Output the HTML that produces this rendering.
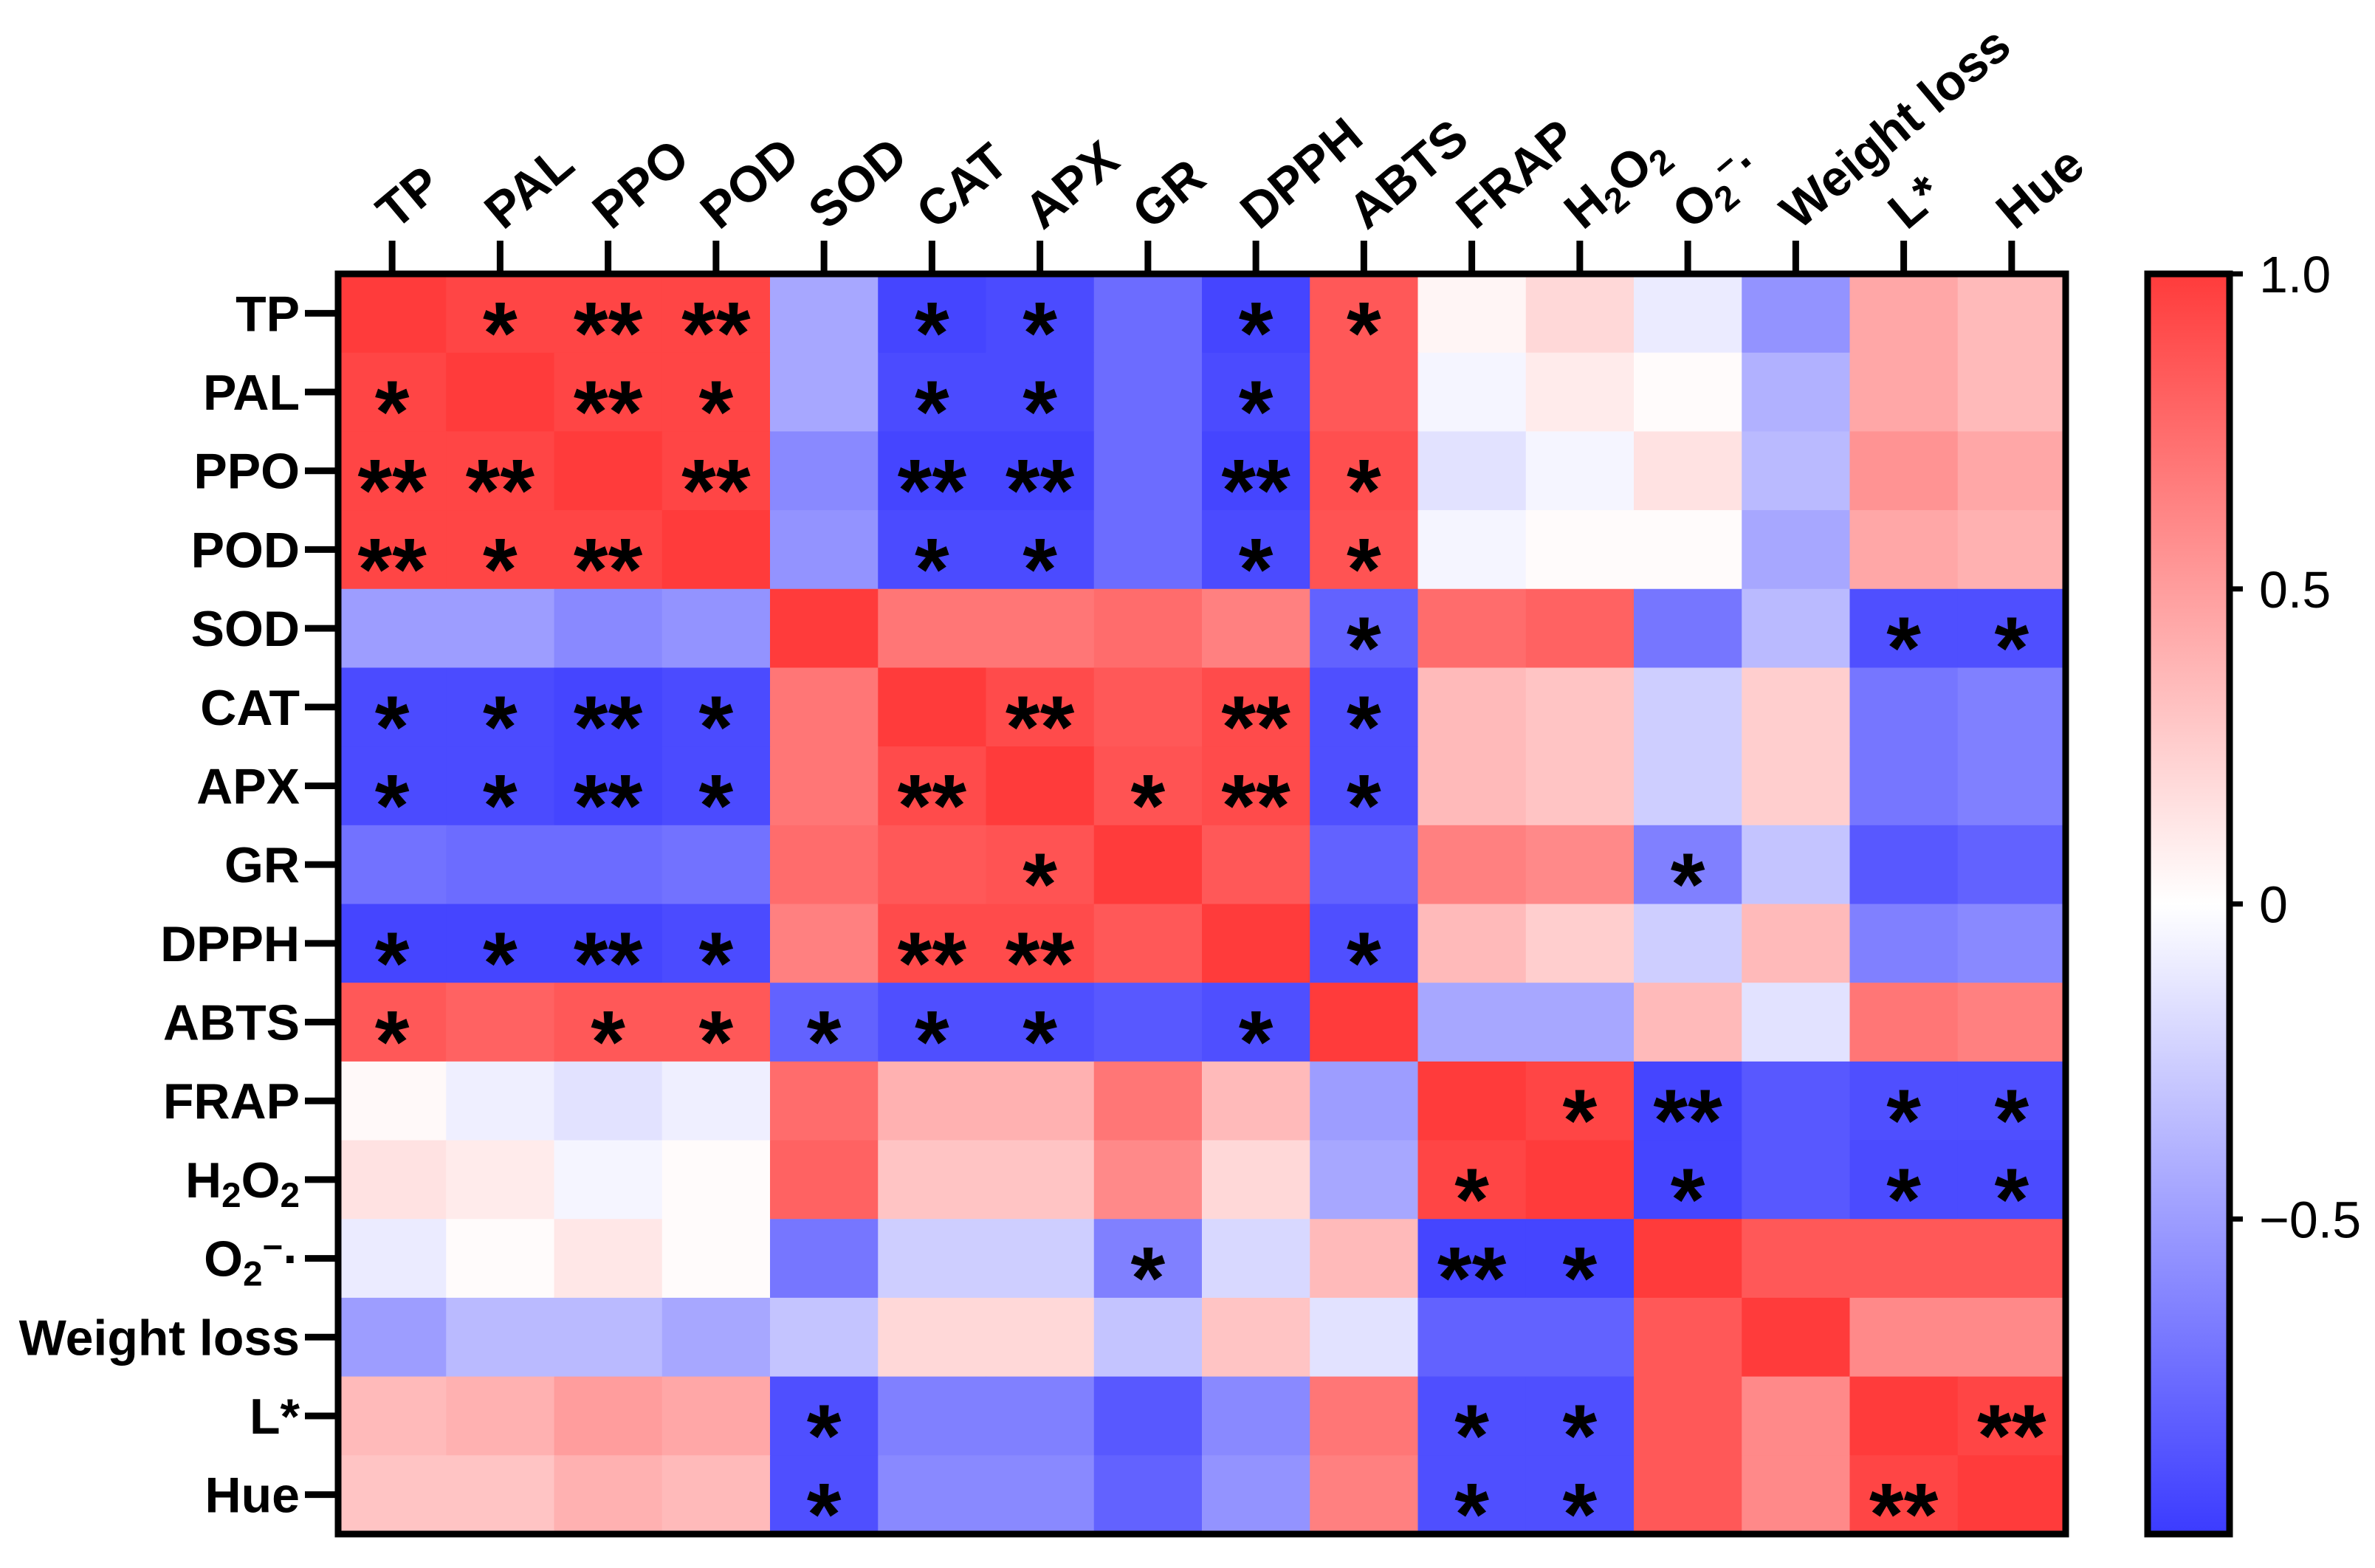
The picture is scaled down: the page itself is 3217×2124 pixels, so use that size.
<!DOCTYPE html>
<html><head><meta charset="utf-8"><style>
html,body{margin:0;padding:0;background:#fff}
svg{display:block}
text{font-family:"Liberation Sans",Arial,sans-serif}
</style></head><body>
<svg id="chart" xmlns="http://www.w3.org/2000/svg" width="3217" height="2124" viewBox="0 0 3217 2124">
<g id="cells"></g>
<g id="stars"></g>
<g id="axes"></g>
<g id="cbar"></g>
</svg>
<script>
const labels = ["TP","PAL","PPO","POD","SOD","CAT","APX","GR","DPPH","ABTS","FRAP","H2O2","O2","WL","L*","Hue"];
const r_TP   = [1,.95,.95,.95,-.45,-.95,-.92,-.75,-.95,.85,.05,.2,-.1,-.55,.45,.35];
const r_PAL  = [.95,1,.95,.95,-.45,-.92,-.92,-.75,-.92,.85,-.05,.1,.02,-.4,.45,.35];
const r_PPO  = [.95,.95,1,.95,-.6,-.95,-.95,-.75,-.95,.9,-.15,-.05,.15,-.35,.55,.45];
const r_POD  = [.95,.95,.95,1,-.55,-.92,-.92,-.75,-.92,.88,-.05,.02,.02,-.45,.45,.4];
const r_SOD  = [-.5,-.5,-.6,-.55,1,.7,.7,.75,.65,-.8,.75,.8,-.7,-.35,-.9,-.9];
const r_CAT  = [-.92,-.92,-.95,-.92,.7,1,.92,.85,.92,-.9,.35,.3,-.25,.25,-.7,-.65];
const r_APX  = [-.92,-.92,-.95,-.92,.7,.92,1,.88,.92,-.9,.35,.3,-.25,.25,-.7,-.65];
const r_GR   = [-.72,-.75,-.75,-.72,.75,.85,.88,1,.85,-.8,.65,.6,-.65,-.3,-.85,-.8];
const r_DPPH = [-.95,-.95,-.95,-.92,.65,.92,.92,.85,1,-.9,.35,.25,-.25,.35,-.65,-.6];
const r_ABTS = [.85,.8,.85,.85,-.8,-.9,-.9,-.85,-.9,1,-.45,-.45,.35,-.15,.7,.65];
const r_FRAP = [.03,-.08,-.15,-.08,.75,.4,.4,.7,.35,-.5,1,.95,-.95,-.85,-.9,-.9];
const r_H2O2 = [.15,.1,-.05,.02,.8,.3,.3,.6,.2,-.45,.95,1,-.95,-.85,-.92,-.92];
const r_O2   = [-.1,.02,.12,.02,-.7,-.25,-.25,-.65,-.2,.35,-.95,-.95,1,.85,.85,.85];
const r_WL   = [-.5,-.35,-.35,-.45,-.3,.2,.2,-.3,.3,-.15,-.8,-.8,.85,1,.6,.6];
const r_L    = [.35,.4,.5,.45,-.9,-.65,-.65,-.85,-.6,.7,-.9,-.9,.85,.6,1,.95];
const r_Hue  = [.3,.3,.4,.35,-.9,-.6,-.6,-.8,-.55,.65,-.9,-.9,.85,.6,.95,1];
const s_TP   = ["","*","**","**","","*","*","","*","*","","","","","",""];
const s_PAL  = ["*","","**","*","","*","*","","*","","","","","","",""];
const s_PPO  = ["**","**","","**","","**","**","","**","*","","","","","",""];
const s_POD  = ["**","*","**","","","*","*","","*","*","","","","","",""];
const s_SOD  = ["","","","","","","","","","*","","","","","*","*"];
const s_CAT  = ["*","*","**","*","","","**","","**","*","","","","","",""];
const s_APX  = ["*","*","**","*","","**","","*","**","*","","","","","",""];
const s_GR   = ["","","","","","","*","","","","","","*","","",""];
const s_DPPH = ["*","*","**","*","","**","**","","","*","","","","","",""];
const s_ABTS = ["*","","*","*","*","*","*","","*","","","","","","",""];
const s_FRAP = ["","","","","","","","","","","","*","**","","*","*"];
const s_H2O2 = ["","","","","","","","","","","*","","*","","*","*"];
const s_O2   = ["","","","","","","","*","","","**","*","","","",""];
const s_WL   = ["","","","","","","","","","","","","","","",""];
const s_L    = ["","","","","*","","","","","","*","*","","","","**"];
const s_Hue  = ["","","","","*","","","","","","*","*","","","**",""];
const cbTicks = [1.0, 0.5, 0, -0.5];
const cbTickLabels = ["1.0","0.5","0","\u22120.5"];

const values = [r_TP,r_PAL,r_PPO,r_POD,r_SOD,r_CAT,r_APX,r_GR,r_DPPH,r_ABTS,r_FRAP,r_H2O2,r_O2,r_WL,r_L,r_Hue];
const stars = [s_TP,s_PAL,s_PPO,s_POD,s_SOD,s_CAT,s_APX,s_GR,s_DPPH,s_ABTS,s_FRAP,s_H2O2,s_O2,s_WL,s_L,s_Hue];

const NS="http://www.w3.org/2000/svg";
const L=458,R=2798,T=371,B=2078,n=labels.length;
const cw=(R-L)/n, ch=(B-T)/n;
const xPos=i=>L+i*cw, yPos=j=>T+j*ch;
function color(v){
  const t=Math.min(1,Math.abs(v));
  const lo=59, a=Math.round(255-(255-lo)*t);
  return v>=0?`rgb(255,${a},${a})`:`rgb(${a},${a},255)`;
}
function mk(tag,attrs,parent){const e=document.createElementNS(NS,tag);for(const k in attrs)e.setAttribute(k,attrs[k]);parent.appendChild(e);return e;}
const gC=document.getElementById('cells'),gS=document.getElementById('stars'),gA=document.getElementById('axes'),gB=document.getElementById('cbar');

for(let j=0;j<n;j++)for(let i=0;i<n;i++){
  const r=mk('rect',{x:xPos(i),y:yPos(j),width:cw+0.6,height:ch+0.6,fill:color(values[j][i])},gC);
  
  
  if(stars[j][i]){
    const t=mk('text',{x:xPos(i)+cw/2,y:yPos(j)+ch/2+68,'text-anchor':'middle','font-size':120,'font-weight':'bold',fill:'#000'},gS);
    t.textContent=stars[j][i];
    
    
  }
}
mk('rect',{x:L,y:T,width:R-L,height:B-T,fill:'none',stroke:'#000','stroke-width':9},gA);

function labelContent(t,name){
  if(name==="H2O2"){t.innerHTML='H<tspan font-size="0.7em" dy="13">2</tspan><tspan dy="-13">O</tspan><tspan font-size="0.7em" dy="13">2</tspan>';}
  else if(name==="O2"){t.innerHTML='O<tspan font-size="0.7em" dy="13">2</tspan><tspan font-size="0.7em" dy="-36">\u2212</tspan><tspan dy="23">\u00b7</tspan>';}
  else if(name==="WL"){t.textContent='Weight loss';}
  else t.textContent=name;
}
for(let j=0;j<n;j++){
  const y=yPos(j)+ch/2;
  mk('line',{x1:L-45,x2:L,y1:y,y2:y,stroke:'#000','stroke-width':9},gA);
  const t=mk('text',{x:L-52,y:y+24,'text-anchor':'end','font-size':68,'font-weight':'bold',fill:'#000'},gA);
  labelContent(t,labels[j]);
  
  
}
for(let i=0;i<n;i++){
  const x=xPos(i)+cw/2;
  mk('line',{x1:x,x2:x,y1:T-45,y2:T,stroke:'#000','stroke-width':9},gA);
  const t=mk('text',{x:0,y:0,'font-size':68,'font-weight':'bold',fill:'#000',transform:`translate(${x+4},${T-58}) rotate(-40)`},gA);
  labelContent(t,labels[i]);
  
  
}

const CL=2909,CR=3020;
const cy=v=>T+(1-v)/2*(B-T);
const defs=mk('defs',{},gB);
const grad=mk('linearGradient',{id:'cg',x1:0,y1:0,x2:0,y2:1},defs);
[1,0.5,0,-0.5,-1].forEach((v,k)=>mk('stop',{offset:k/4,'stop-color':color(v)},grad));
mk('rect',{x:CL,y:T,width:CR-CL,height:B-T,fill:'url(#cg)',stroke:'#000','stroke-width':9},gB);
cbTicks.forEach((v,k)=>{
  const y=cy(v);
  mk('line',{x1:CR,x2:CR+18,y1:y,y2:y,stroke:'#000','stroke-width':7},gB);
  const t=mk('text',{x:CR+40,y:y+25,'font-size':70,fill:'#000'},gB);
  t.textContent=cbTickLabels[k];
  
  
});
</script>
</body></html>
